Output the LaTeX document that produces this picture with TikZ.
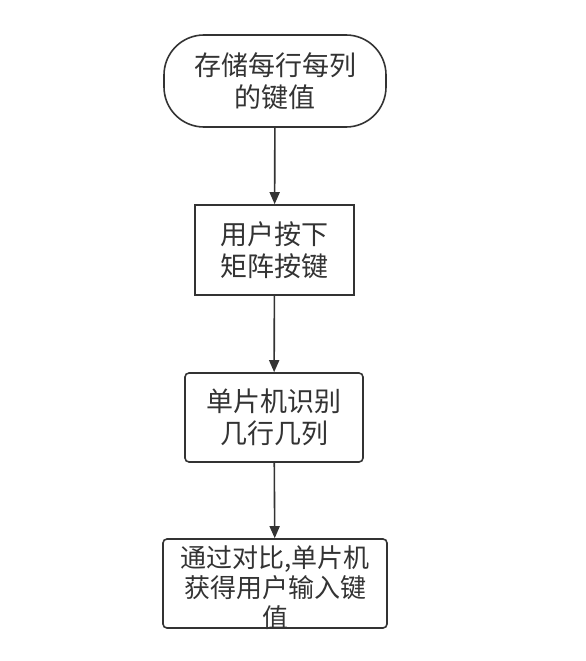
\documentclass[tikz,border=0pt]{standalone}
\usepackage{fontspec}
\setmainfont{Noto Sans CJK SC}
\usetikzlibrary{arrows.meta}
\definecolor{edge}{HTML}{333333}
\tikzset{
  box/.style={draw=edge,line width=1.6pt,align=center,inner sep=0pt,
    text=edge,font=\fontsize{27}{32}\selectfont},
  flow/.style={draw=edge,line width=1.6pt,-{Triangle[length=12pt,width=10pt]}}
}
\begin{document}
\begin{tikzpicture}[x=1pt,y=-1pt]
\useasboundingbox (0,0) rectangle (586,661);
\node[box,rounded corners=40pt,minimum width=222pt,minimum height=92pt] (store) at (275,81) {存储每行每列\\的键值};
\node[box,minimum width=159pt,minimum height=90pt] (press) at (274.5,250) {用户按下\\矩阵按键};
\node[box,rounded corners=4pt,minimum width=178pt,minimum height=89pt] (scan) at (274,417.5) {单片机识别\\几行几列};
\node[box,rounded corners=4pt,minimum width=224pt,minimum height=89pt] (result) at (275,583.5) {};
\node[text=edge,font=\fontsize{26}{30}\selectfont,align=center,inner sep=0pt] (resulttext) at (275,588) {通过对比,单片机\\获得用户输入键\\值};
\draw[flow] (store) -- (press);
\draw[flow] (press) -- (scan);
\draw[flow] (scan) -- (result);
\end{tikzpicture}
\end{document}
